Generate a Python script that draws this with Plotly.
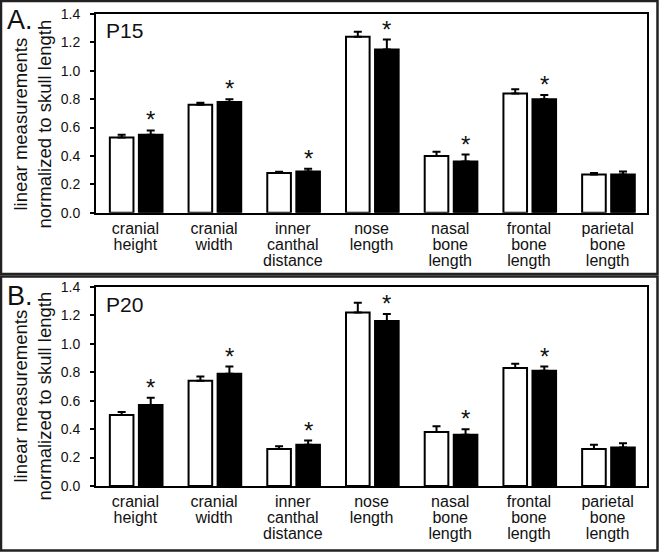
import plotly.graph_objects as go

# ---------------- data ----------------
categories = [["cranial", "height"], ["cranial", "width"], ["inner", "canthal", "distance"],
              ["nose", "length"], ["nasal", "bone", "length"], ["frontal", "bone", "length"],
              ["parietal", "bone", "length"]]
significant = [True, True, True, True, True, True, False]

y_ticks = [0.0, 0.2, 0.4, 0.6, 0.8, 1.0, 1.2, 1.4]

# Panel A (P15)
a_white = [0.53, 0.76, 0.28, 1.24, 0.40, 0.84, 0.27]
a_white_err = [0.02, 0.015, 0.008, 0.035, 0.03, 0.03, 0.01]
a_black = [0.55, 0.78, 0.29, 1.15, 0.36, 0.80, 0.27]
a_black_err = [0.03, 0.02, 0.02, 0.07, 0.05, 0.03, 0.02]

# Panel B (P20)
b_white = [0.50, 0.74, 0.26, 1.22, 0.38, 0.83, 0.26]
b_white_err = [0.02, 0.03, 0.02, 0.07, 0.04, 0.03, 0.03]
b_black = [0.57, 0.79, 0.29, 1.16, 0.36, 0.81, 0.27]
b_black_err = [0.05, 0.05, 0.03, 0.05, 0.04, 0.03, 0.03]

panels = [
    dict(label="A.", age="P15", white=a_white, white_err=a_white_err,
         black=a_black, black_err=a_black_err),
    dict(label="B.", age="P20", white=b_white, white_err=b_white_err,
         black=b_black, black_err=b_black_err),
]

# ---------------- layout helpers ----------------
W, H = 659, 552
FONT = "Liberation Sans, Arial, sans-serif"
TXT = "#111111"


def px(x):
    return x / W


def py(y):
    return 1 - y / H


BAR_W = 0.30
WHITE_OFF = -0.324
BLACK_OFF = 0.045

# tick labels: tighter line spacing than plotly default via larger inner spans
tick_text = ["<br>".join("<span style='font-size:16px'>%s</span>" % w for w in c)
             for c in categories]

# plot areas in pixels: (left, right, top, bottom)
areas = [(96, 647, 14, 212.7), (96, 647, 287, 486)]
boxes = [(1, 657.5, 1, 274), (1, 657.5, 276.5, 550.5)]
title_centers = [124, 396]

fig = go.Figure()
xpos = list(range(len(categories)))
annotations = []
shapes = []

for k, p in enumerate(panels):
    xa = "x" if k == 0 else "x2"
    ya = "y" if k == 0 else "y2"
    err_style = dict(type="data", symmetric=False, color="black", thickness=2, width=4)
    fig.add_trace(go.Bar(
        x=xpos, y=p["white"], width=BAR_W, offset=WHITE_OFF,
        marker=dict(color="white", line=dict(color="black", width=2)),
        error_y=dict(array=p["white_err"], arrayminus=[0] * len(xpos), **err_style),
        xaxis=xa, yaxis=ya, showlegend=False, hoverinfo="skip"))
    fig.add_trace(go.Bar(
        x=xpos, y=p["black"], width=BAR_W, offset=BLACK_OFF,
        marker=dict(color="black", line=dict(color="black", width=2)),
        error_y=dict(array=p["black_err"], arrayminus=[0] * len(xpos), **err_style),
        xaxis=xa, yaxis=ya, showlegend=False, hoverinfo="skip"))

    # significance asterisks above black bars
    for i, s in enumerate(significant):
        if s:
            annotations.append(dict(
                x=i + BLACK_OFF + BAR_W / 2, y=p["black"][i] + p["black_err"][i],
                xref=xa, yref=ya, text="*", showarrow=False,
                xanchor="center", yanchor="bottom", yshift=-5,
                font=dict(family=FONT, size=24, color=TXT)))

    l, r, t, b = areas[k]
    ax_suffix = "" if k == 0 else "2"
    fig.layout["xaxis" + ax_suffix] = dict(
        domain=[px(l), px(r)], anchor=ya, range=[-0.5, len(categories) - 0.5],
        tickmode="array", tickvals=xpos, ticktext=tick_text, ticks="",
        showline=True, mirror=True, linecolor="black", linewidth=2,
        showgrid=False, zeroline=False, ticklabelstandoff=4, automargin=False,
        tickfont=dict(family=FONT, size=12.4, color=TXT))
    fig.layout["yaxis" + ax_suffix] = dict(
        domain=[py(b), py(t)], anchor=xa, range=[0, 1.4],
        tickmode="array", tickvals=y_ticks, tickformat=".1f",
        ticks="outside", ticklen=4, tickwidth=1.5, tickcolor="black",
        showline=True, mirror=True, linecolor="black", linewidth=2,
        showgrid=False, zeroline=False, ticklabelstandoff=7, automargin=False,
        tickfont=dict(family=FONT, size=14, color=TXT))

    bx0, bx1, by0, by1 = boxes[k]
    shapes.append(dict(type="rect", xref="paper", yref="paper",
                       x0=px(bx0), x1=px(bx1), y0=py(by0), y1=py(by1),
                       line=dict(color="#222222", width=2.5)))

    # panel letter
    annotations.append(dict(x=px(5), y=py(by0 + 2), xref="paper", yref="paper",
                            text=p["label"], showarrow=False, xanchor="left", yanchor="top",
                            font=dict(family=FONT, size=27, color=TXT)))
    # age label inside plot
    annotations.append(dict(x=px(103.5), y=py(t + 3.5), xref="paper", yref="paper",
                            text=p["age"], showarrow=False, xanchor="left", yanchor="top",
                            font=dict(family=FONT, size=21, color=TXT)))
    # y-axis title
    annotations.append(dict(x=px(31.5), y=py(title_centers[k]), xref="paper", yref="paper",
                            text="linear measurements<br>normalized to skull length",
                            showarrow=False, textangle=-90, xanchor="center", yanchor="middle",
                            font=dict(family=FONT, size=18.5, color=TXT)))

fig.update_layout(
    width=W, height=H, autosize=False,
    margin=dict(l=0, r=0, t=0, b=0, pad=0, autoexpand=False),
    paper_bgcolor="white", plot_bgcolor="white",
    barmode="overlay", showlegend=False,
    annotations=annotations, shapes=shapes,
    font=dict(family=FONT, color=TXT),
)

fig.write_html("out.html", config={"displayModeBar": False},
               post_script="document.body.style.margin='0';document.body.style.padding='0';")
